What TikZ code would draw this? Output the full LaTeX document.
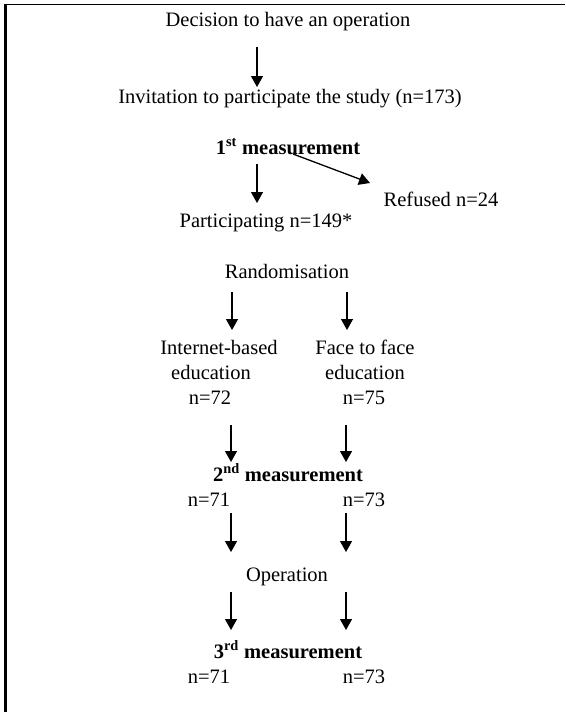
\documentclass[tikz,border=0pt]{standalone}
\usepackage{fontspec}
\setmainfont{Liberation Serif}
\usetikzlibrary{arrows.meta}
\begin{document}
\begin{tikzpicture}[x=1pt,y=-1pt,
  txt/.style={inner sep=0pt,anchor=base,font=\fontsize{20.5}{24}\selectfont},
  btxt/.style={txt,font=\fontsize{20.5}{24}\selectfont\bfseries},
  arr/.style={line width=1.3pt,-{Triangle[length=11pt,width=12pt]}}]
\useasboundingbox (0,0) rectangle (565,712);
% frame
\draw[line width=1pt] (5,4.5) -- (565,4.5);
\draw[line width=2.2pt] (5.5,4) -- (5.5,712);
% texts
\node[txt] (dec) at (288,26) {Decision to have an operation};
\node[txt] (inv) at (290,103) {Invitation to participate the study (n=173)};
\node[btxt] (m1) at (288,154) {1\textsuperscript{st} measurement};
\node[txt] (ref) at (441,206) {Refused n=24};
\node[txt] (par) at (266,227) {Participating n=149*};
\node[txt] (ran) at (287,278) {Randomisation};
\node[txt] (ib1) at (219,354) {Internet-based};
\node[txt] (ib2) at (211,379) {education};
\node[txt] (ib3) at (210,404) {n=72};
\node[txt] (ff1) at (365,354) {Face to face};
\node[txt] (ff2) at (365,379) {education};
\node[txt] (ff3) at (364,404) {n=75};
\node[btxt] (m2) at (288,481) {2\textsuperscript{nd} measurement};
\node[txt] (m2l) at (209,506) {n=71};
\node[txt] (m2r) at (364,506) {n=73};
\node[txt] (op) at (287,581) {Operation};
\node[btxt] (m3) at (288,658) {3\textsuperscript{rd} measurement};
\node[txt] (m3l) at (209,683) {n=71};
\node[txt] (m3r) at (364,683) {n=73};
% arrow end points
\coordinate (a1s) at (257,47);  \coordinate (a1e) at (257,87);
\coordinate (a2s) at (257,164); \coordinate (a2e) at (257,203);
\coordinate (d1s) at (293,154); \coordinate (d1e) at (370,183);
\coordinate (r1s) at (232,292); \coordinate (r1e) at (232,330);
\coordinate (r2s) at (347,292); \coordinate (r2e) at (347,330);
\coordinate (e1s) at (231,425); \coordinate (e1e) at (231,462);
\coordinate (e2s) at (346,425); \coordinate (e2e) at (346,462);
\coordinate (o1s) at (231,513); \coordinate (o1e) at (231,552);
\coordinate (o2s) at (346,513); \coordinate (o2e) at (346,552);
\coordinate (p1s) at (231,592); \coordinate (p1e) at (231,630);
\coordinate (p2s) at (346,592); \coordinate (p2e) at (346,630);
% arrows
\draw[arr] (a1s) -- (a1e);
\draw[arr] (a2s) -- (a2e);
\draw[arr] (d1s) -- (d1e);
\draw[arr] (r1s) -- (r1e);
\draw[arr] (r2s) -- (r2e);
\draw[arr] (e1s) -- (e1e);
\draw[arr] (e2s) -- (e2e);
\draw[arr] (o1s) -- (o1e);
\draw[arr] (o2s) -- (o2e);
\draw[arr] (p1s) -- (p1e);
\draw[arr] (p2s) -- (p2e);
\end{tikzpicture}
\end{document}
